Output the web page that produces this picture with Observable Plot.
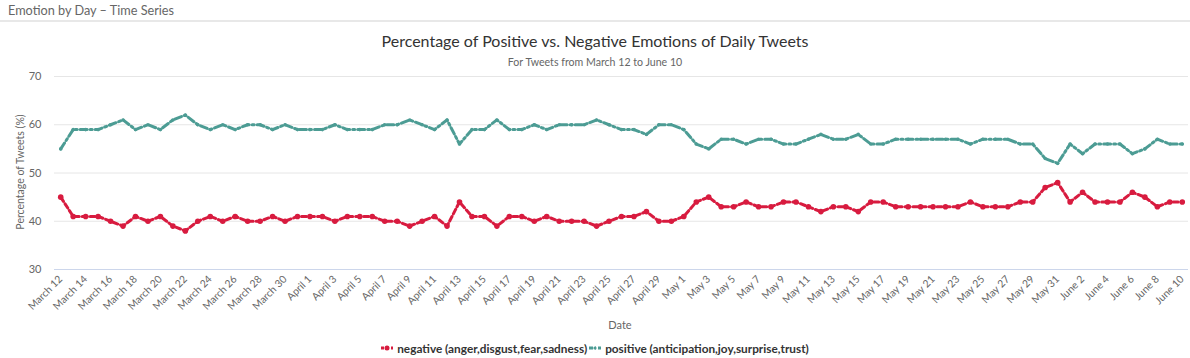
<!DOCTYPE html>
<html>
<head>
<meta charset="utf-8">
<script src="https://cdn.jsdelivr.net/npm/d3@7"></script>
<script src="https://cdn.jsdelivr.net/npm/@observablehq/plot@0.6"></script>
<style>
  html, body { margin: 0; padding: 0; background: #fff; }
  body { width: 1190px; height: 358px; position: relative; overflow: hidden; font-family: Lato, "Open Sans", sans-serif; }
  .abs { position: absolute; white-space: nowrap; }
  #hdr { left: 8px; top: 2px; font-size: 12.7px; color: #666; }
  #hline { left: 0; top: 20px; width: 1190px; height: 2px; background: #e8e8e8; }
  #title { left: 0; width: 1190px; top: 31px; text-align: center; font-size: 16px; color: #333; }
  #sub { left: 0; width: 1190px; top: 56px; text-align: center; font-size: 10.6px; color: #666; }
  #chart { left: 0; top: 70px; }
  #ytitle { left: 20px; top: 172px; font-size: 10.5px; color: #666; transform: translate(-50%, -50%) rotate(-90deg); }
  #xlab { left: 0; width: 1240px; top: 318px; text-align: center; font-size: 11px; color: #666; }
  #legend { left: 0; width: 1190px; top: 340px; text-align: center; font-size: 11.8px; font-weight: bold; color: #333; }
  .item { display: inline-flex; align-items: center; margin: 0 1px; }
  .item svg { margin-right: 4px; }
</style>
</head>
<body>
<div id="hdr" class="abs">Emotion by Day – Time Series</div>
<div id="hline" class="abs"></div>
<div id="title" class="abs">Percentage of Positive vs. Negative Emotions of Daily Tweets</div>
<div id="sub" class="abs">For Tweets from March 12 to June 10</div>
<div id="chart" class="abs"></div>
<div id="ytitle" class="abs">Percentage of Tweets (%)</div>
<div id="xlab" class="abs">Date</div>
<div id="legend" class="abs"></div>
<script>
// Categories: daily dates March 12 .. June 10
const startDate = "2020-03-12";
const endDate = "2020-06-10";
const seriesNames = ["negative (anger,disgust,fear,sadness)", "positive (anticipation,joy,surprise,trust)"];
const seriesColors = ["#d81b3f", "#4c9c94"];
const yTicks = [30, 40, 50, 60, 70];

const negative = [
  45,41,41,41,40,39,41,40,41,39,38,40,41,40,41,
  40,40,41,40,41,41,41,40,41,41,41,40,40,39,40,
  41,39,44,41,41,39,41,41,40,41,40,40,40,39,40,
  41,41,42,40,40,41,44,45,43,43,44,43,43,44,44,
  43,42,43,43,42,44,44,43,43,43,43,43,43,44,
  43,43,43,44,44,47,48,44,46,44,44,44,46,45,43,44,44
];
const positive = [
  55,59,59,59,60,61,59,60,59,61,62,60,59,60,59,
  60,60,59,60,59,59,59,60,59,59,59,60,60,61,60,
  59,61,56,59,59,61,59,59,60,59,60,60,60,61,60,
  59,59,58,60,60,59,56,55,57,57,56,57,57,56,56,
  57,58,57,57,58,56,56,57,57,57,57,57,57,56,
  57,57,57,56,56,53,52,56,54,56,56,56,54,55,57,56,56
];

const fmt = d3.utcFormat("%B %-d");
const days = d3.utcDay.range(new Date(startDate), d3.utcDay.offset(new Date(endDate), 1));
const labels = days.map(fmt);
const data = labels.map((l, i) => ({label: l, neg: negative[i], pos: positive[i]}));

const chart = Plot.plot({
  width: 1190,
  height: 265,
  marginTop: 6,
  marginBottom: 66,
  marginLeft: 54,
  marginRight: 2,
  style: {fontFamily: "Lato, 'Open Sans', sans-serif", color: "#666", background: "transparent"},
  x: {type: "point", domain: labels, padding: 0.5},
  y: {domain: [30, 70]},
  marks: [
    Plot.ruleY(yTicks.filter(t => t !== 30), {stroke: "#e6e6e6", strokeWidth: 1}),
    Plot.ruleY([30], {stroke: "#ccd6eb", strokeWidth: 1}),
    Plot.axisY({ticks: yTicks, tickSize: 0, tickPadding: 13, fontSize: 11, label: null, fill: "#666"}),
    Plot.axisX({ticks: labels.filter((d, i) => i % 2 === 0), tickRotate: -45, tickSize: 0, tickPadding: 8, fontSize: 10.3, label: null, fill: "#666"}),
    Plot.line(data, {x: "label", y: "pos", stroke: seriesColors[1], strokeWidth: 3, strokeDasharray: "7,3,2,3"}),
    Plot.dot(data, {x: "label", y: "pos", r: 1.8, fill: seriesColors[1], stroke: "none"}),
    Plot.line(data, {x: "label", y: "neg", stroke: seriesColors[0], strokeWidth: 3, strokeDasharray: "5,3"}),
    Plot.dot(data, {x: "label", y: "neg", r: 2.8, fill: seriesColors[0], stroke: "none"})
  ]
});
document.getElementById("chart").appendChild(chart);

const legend = document.getElementById("legend");
seriesNames.forEach((name, i) => {
  const item = document.createElement("span");
  item.className = "item";
  const dash = i === 0 ? "3,2" : "4,2,1,2";
  const r = i === 0 ? 2.5 : 1.6;
  item.innerHTML = `<svg width="12" height="8"><line x1="0" x2="12" y1="4" y2="4" stroke="${seriesColors[i]}" stroke-width="3" stroke-dasharray="${dash}"/><circle cx="6" cy="4" r="${r}" fill="${seriesColors[i]}"/></svg>`;
  const t = document.createElement("span");
  t.textContent = name;
  item.appendChild(t);
  legend.appendChild(item);
});
</script>
</body>
</html>
